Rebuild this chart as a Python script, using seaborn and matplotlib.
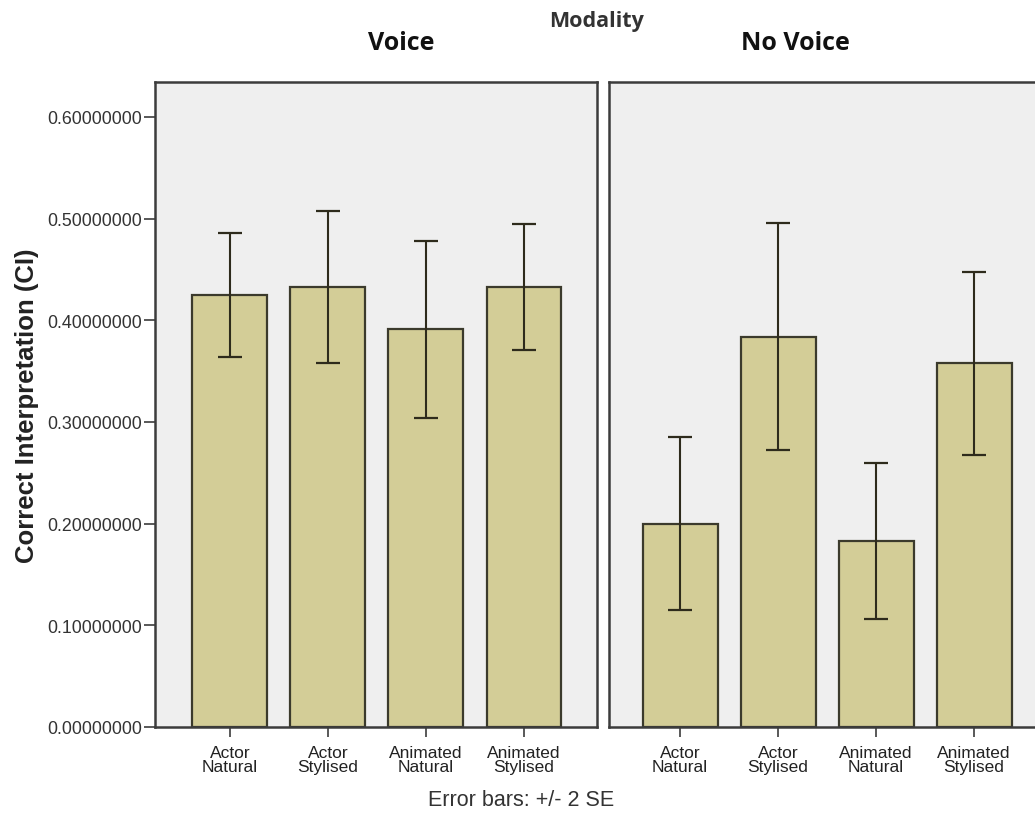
import numpy as np
import pandas as pd
import matplotlib
matplotlib.use("Agg")
import matplotlib.pyplot as plt
import seaborn as sns

# Condition labels and panel names
conditions = ["Actor\nNatural", "Actor\nStylised", "Animated\nNatural", "Animated\nStylised"]
modalities = ["Voice", "No Voice"]

# Mean proportion of correct interpretations per condition
voice_means = [0.425, 0.433, 0.391, 0.433]
novoice_means = [0.200, 0.384, 0.183, 0.358]

# Half-width of the error bars (2 standard errors)
voice_2se = [0.061, 0.075, 0.087, 0.062]
novoice_2se = [0.085, 0.112, 0.077, 0.090]

y_ticks = [0.0, 0.1, 0.2, 0.3, 0.4, 0.5, 0.6]

df = pd.DataFrame({
    "Condition": conditions * 2,
    "Modality": [modalities[0]] * 4 + [modalities[1]] * 4,
    "CI": voice_means + novoice_means,
    "SE2": voice_2se + novoice_2se,
})

sns.set_theme(style="white")
plt.rcParams["font.family"] = ["Liberation Sans", "DejaVu Sans"]

BAR = "#d3cd97"
EDGE = "#3b3a2c"
PANEL = "#efefef"
SPINE = "#3c3c3c"

W, H = 1035, 820
fig = plt.figure(figsize=(W / 100, H / 100), dpi=100)
fig.patch.set_facecolor("white")

# panel boxes in pixel coordinates: (left, top, right, bottom) and x-limits
boxes = [(155, 83, 597, 728), (609, 83, 1051, 728)]
xlims = [(-0.765, 3.745), (-0.725, 3.785)]
axes = []
for (l, t, r, b) in boxes:
    ax = fig.add_axes([l / W, 1 - b / H, (r - l) / W, (b - t) / H])
    axes.append(ax)

for i, (ax, mod) in enumerate(zip(axes, modalities)):
    sub = df[df["Modality"] == mod]
    sns.barplot(data=sub, x="Condition", y="CI", order=conditions, color=BAR,
                saturation=1, width=0.765, edgecolor=EDGE, linewidth=1.6,
                errorbar=None, ax=ax)
    ax.errorbar(np.arange(len(conditions)), sub["CI"].values, yerr=sub["SE2"].values,
                fmt="none", ecolor="#2e2b1c", elinewidth=1.5, capsize=8.5,
                capthick=1.6, zorder=5)
    ax.set_facecolor(PANEL)
    ax.set_xlim(*xlims[i])
    ax.set_ylim(0, 0.6344)
    ax.set_xlabel("")
    ax.set_ylabel("")
    for s in ax.spines.values():
        s.set_color(SPINE)
        s.set_linewidth(1.8)
    ax.tick_params(axis="x", bottom=True, length=7, width=1.2, color=SPINE,
                   labelsize=12.5, pad=6, labelcolor="#222222")
    ax.set_xticks(range(len(conditions)))
    ax.set_xticklabels(conditions, linespacing=0.9)
    if i == 0:
        ax.set_yticks(y_ticks)
        ax.set_yticklabels([f"{v:.8f}" for v in y_ticks])
        ax.tick_params(axis="y", left=True, length=8, width=1.2, color=SPINE,
                       labelsize=12.8, pad=1, labelcolor="#333333")
        ax.set_ylabel("Correct Interpretation (CI)", fontsize=18.5, fontweight="bold",
                      labelpad=6, color="#222222")
    else:
        ax.set_yticks(y_ticks)
        ax.tick_params(axis="y", left=False, labelleft=False)

head = ["Open Sans", "DejaVu Sans"]
fig.text(597 / W, 1 - 21 / H, "Modality", ha="center", va="center",
         fontsize=15.5, fontweight="bold", family=head, color="#333333")
fig.text(401 / W, 1 - 44 / H, "Voice", ha="center", va="center",
         fontsize=18, fontweight="bold", family=head, color="#111111")
fig.text(795 / W, 1 - 44 / H, "No Voice", ha="center", va="center",
         fontsize=18, fontweight="bold", family=head, color="#111111")
fig.text(521 / W, 1 - 801 / H, "Error bars: +/- 2 SE", ha="center", va="center",
         fontsize=15.5, color="#333333")

fig.savefig("out.png", dpi=100, facecolor="white")
